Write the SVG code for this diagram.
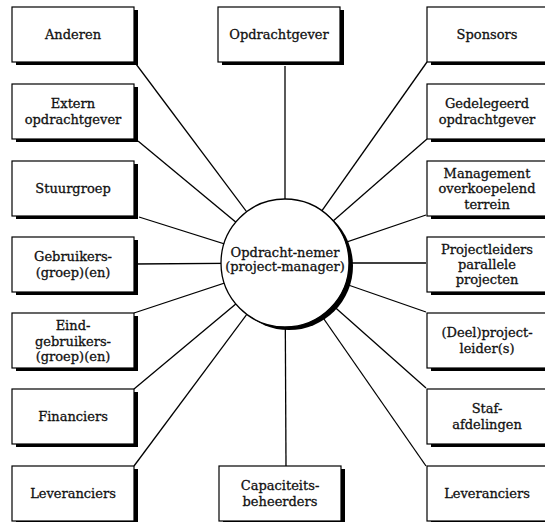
<svg xmlns="http://www.w3.org/2000/svg" width="545" height="522" viewBox="0 0 545 522">
  <style>
    .box { fill: #fff; stroke: #000; stroke-width: 1.2; }
    .sh { fill: #000; }
    .lbl { font-family: "DejaVu Serif", "Liberation Serif", serif; font-size: 13px; text-anchor: middle; fill: #111; stroke: #111; stroke-width: 0.3; }
    .con line { stroke: #000; stroke-width: 1.3; fill: none; }
  </style>
  <defs>
    <!-- box with drop shadow, 122 x 55 -->
    <g id="card">
      <rect class="sh" x="4" y="3" width="122" height="55"/>
      <rect class="box" x="0" y="0" width="122" height="55"/>
    </g>
  </defs>
  <rect width="545" height="522" fill="#fff"/>

  <!-- connectors: every box points at the centre of the hub -->
  <g id="connectors" class="con">
    <line x1="136" y1="64" x2="285" y2="263"/>
    <line x1="138" y1="141" x2="285" y2="263"/>
    <line x1="139" y1="217" x2="285" y2="263"/>
    <line x1="134" y1="264" x2="285" y2="263"/>
    <line x1="134" y1="313" x2="285" y2="263"/>
    <line x1="134" y1="389" x2="285" y2="263"/>
    <line x1="134" y1="466" x2="285" y2="263"/>
    <line x1="285" y1="66" x2="285" y2="263"/>
    <line x1="286" y1="466" x2="285" y2="263"/>
    <line x1="427" y1="62" x2="285" y2="263"/>
    <line x1="427" y1="139" x2="285" y2="263"/>
    <line x1="426" y1="215" x2="285" y2="263"/>
    <line x1="426" y1="263" x2="285" y2="263"/>
    <line x1="426" y1="312" x2="285" y2="263"/>
    <line x1="426" y1="388" x2="285" y2="263"/>
    <line x1="426" y1="466" x2="285" y2="263"/>
  </g>

  <!-- hub -->
  <g id="hub">
    <circle cx="289" cy="266" r="64" fill="#000"/>
    <circle cx="285" cy="263" r="64" fill="#fff" stroke="#000" stroke-width="1.3"/>
    <text class="lbl"><tspan x="285" y="257">Opdracht-nemer</tspan><tspan x="285" y="271">(project-manager)</tspan></text>
  </g>

  <!-- left column -->
  <g id="anderen"><use href="#card" x="12" y="7"/>
    <text class="lbl" x="73" y="39">Anderen</text></g>
  <g id="extern-opdrachtgever"><use href="#card" x="12" y="84"/>
    <text class="lbl"><tspan x="73" y="108">Extern</tspan><tspan x="73" y="124">opdrachtgever</tspan></text></g>
  <g id="stuurgroep"><use href="#card" x="12" y="161"/>
    <text class="lbl" x="73" y="193">Stuurgroep</text></g>
  <g id="gebruikers"><use href="#card" x="12" y="237"/>
    <text class="lbl"><tspan x="73" y="261">Gebruikers-</tspan><tspan x="73" y="277">(groep)(en)</tspan></text></g>
  <g id="eindgebruikers"><use href="#card" x="12" y="313"/>
    <text class="lbl"><tspan x="73" y="330">Eind-</tspan><tspan x="73" y="345.5">gebruikers-</tspan><tspan x="73" y="361">(groep)(en)</tspan></text></g>
  <g id="financiers"><use href="#card" x="12" y="389"/>
    <text class="lbl" x="73" y="421">Financiers</text></g>
  <g id="leveranciers-links"><use href="#card" x="12" y="466"/>
    <text class="lbl" x="73" y="498">Leveranciers</text></g>

  <!-- centre column -->
  <g id="opdrachtgever"><use href="#card" x="218" y="7"/>
    <text class="lbl" x="279" y="39">Opdrachtgever</text></g>
  <g id="capaciteitsbeheerders"><use href="#card" x="219" y="466"/>
    <text class="lbl"><tspan x="280" y="490">Capaciteits-</tspan><tspan x="280" y="506">beheerders</tspan></text></g>

  <!-- right column -->
  <g id="sponsors"><use href="#card" x="427" y="7"/>
    <text class="lbl" x="487" y="39">Sponsors</text></g>
  <g id="gedelegeerd-opdrachtgever"><use href="#card" x="427" y="84"/>
    <text class="lbl"><tspan x="487" y="108">Gedelegeerd</tspan><tspan x="487" y="124">opdrachtgever</tspan></text></g>
  <g id="management"><use href="#card" x="427" y="161"/>
    <text class="lbl"><tspan x="487" y="177.5">Management</tspan><tspan x="487" y="193">overkoepelend</tspan><tspan x="487" y="208.5">terrein</tspan></text></g>
  <g id="projectleiders"><use href="#card" x="427" y="237"/>
    <text class="lbl"><tspan x="487" y="254">Projectleiders</tspan><tspan x="487" y="269">parallele</tspan><tspan x="487" y="284">projecten</tspan></text></g>
  <g id="deelprojectleiders"><use href="#card" x="427" y="313"/>
    <text class="lbl"><tspan x="487" y="337">(Deel)project-</tspan><tspan x="487" y="353">leider(s)</tspan></text></g>
  <g id="stafafdelingen"><use href="#card" x="427" y="389"/>
    <text class="lbl"><tspan x="487" y="413">Staf-</tspan><tspan x="487" y="429">afdelingen</tspan></text></g>
  <g id="leveranciers-rechts"><use href="#card" x="427" y="466"/>
    <text class="lbl" x="487" y="498">Leveranciers</text></g>
</svg>
